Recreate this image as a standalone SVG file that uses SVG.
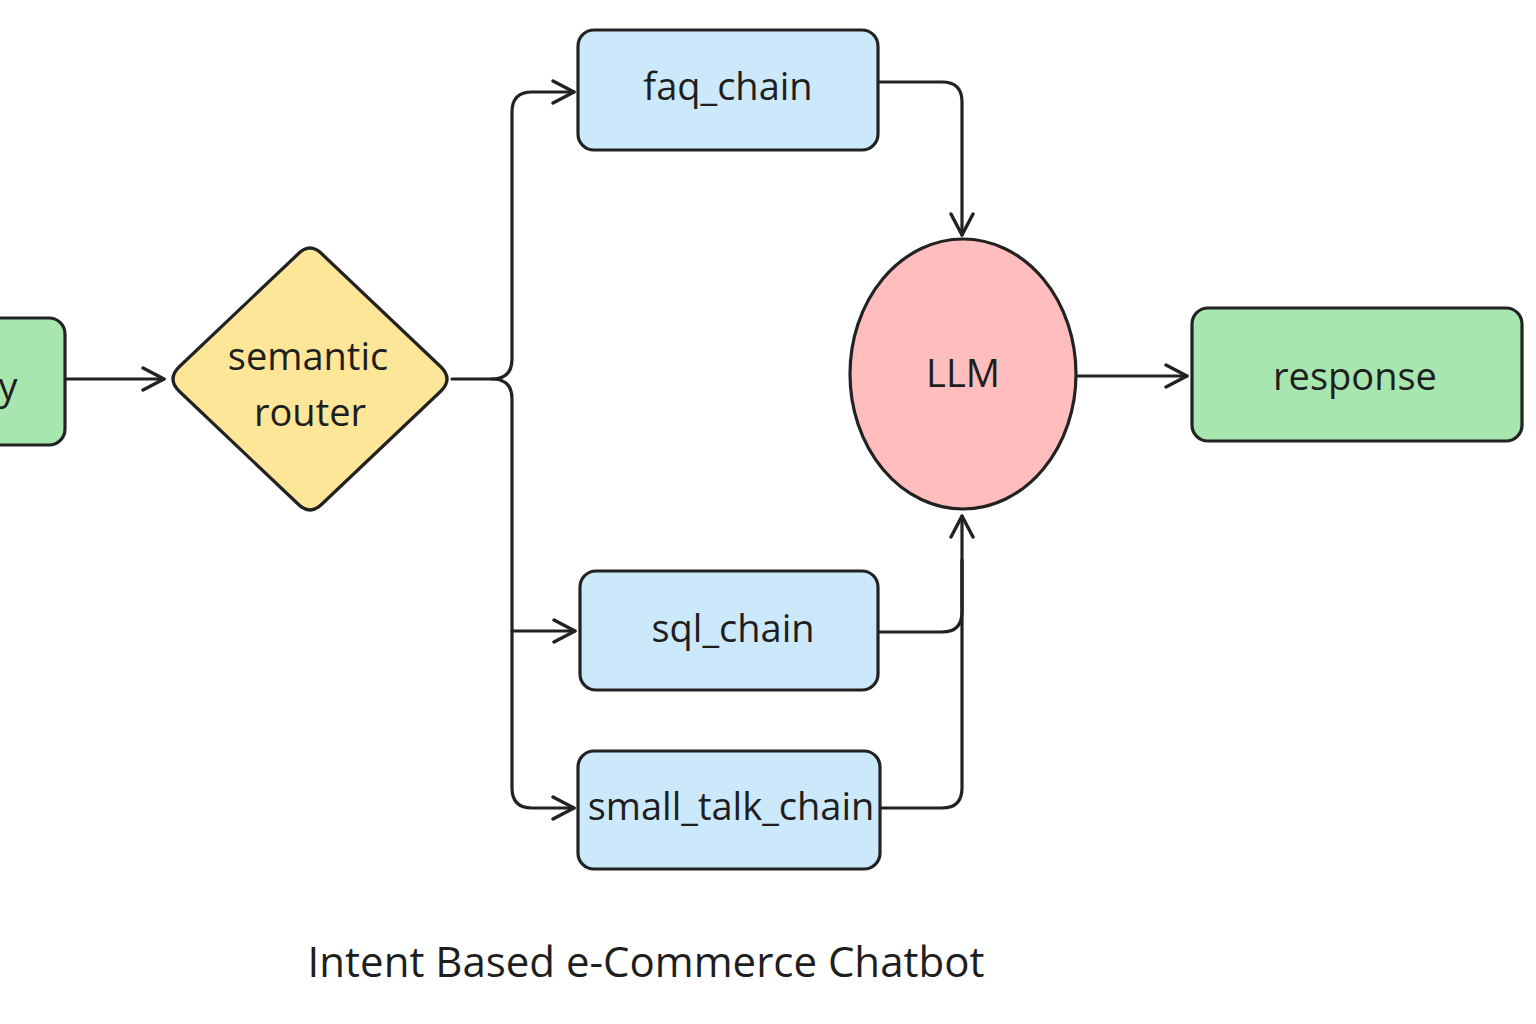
<svg xmlns="http://www.w3.org/2000/svg" width="1536" height="1024" viewBox="0 0 1536 1024">
<style>
.node{stroke:#222;stroke-width:3.2;stroke-linejoin:round}
.chain{fill:#cce8fb}
.green{fill:#a8e6b0}
.lbl{font-family:"Open Sans","Liberation Sans",sans-serif;font-size:38px;fill:#1e1e1e;text-anchor:middle;dominant-baseline:central}
.edge{fill:none;stroke:#222;stroke-width:3.2;stroke-linecap:round;stroke-linejoin:round}
</style>
<defs>
<marker id="arr" viewBox="0 0 26 26" refX="24" refY="13" markerWidth="26" markerHeight="26" markerUnits="userSpaceOnUse" orient="auto">
<path d="M3 2 L24 13 L3 24" fill="none" stroke="#222" stroke-width="3.4" stroke-linecap="round" stroke-linejoin="round"/>
</marker>
</defs>
<rect width="1536" height="1024" fill="#fff"/>
<g id="connectors">
<path class="edge" d="M66 379 H164" marker-end="url(#arr)"/>
<path class="edge" d="M452 379 H492 Q512 379 512 359 V112 Q512 92 532 92 H574" marker-end="url(#arr)"/>
<path class="edge" d="M492 379 Q512 379 512 399 V788 Q512 808 532 808 H574" marker-end="url(#arr)"/>
<path class="edge" d="M512 631 H575" marker-end="url(#arr)"/>
<path class="edge" d="M878 82 H942 Q962 82 962 102 V235" marker-end="url(#arr)"/>
<path class="edge" d="M878 632 H942 Q962 632 962 612 V516" marker-end="url(#arr)"/>
<path class="edge" d="M881 808 H942 Q962 808 962 788 V560"/>
<path class="edge" d="M1078 376 H1187" marker-end="url(#arr)"/>
</g>
<g id="query">
<rect class="node green" x="-40" y="318" width="105" height="127" rx="16"/>
<text class="lbl" x="8" y="385">y</text>
</g>
<g id="semantic_router">
<path class="node" fill="#fde697" d="M298 254 Q310 242 322 254 L441 367 Q453 379 441 391 L322 504 Q310 516 298 504 L179 391 Q167 379 179 367 Z"/>
<text class="lbl" x="308" y="355">semantic</text>
<text class="lbl" x="310" y="411">router</text>
</g>
<g id="faq_chain">
<rect class="node chain" x="578" y="30" width="300" height="120" rx="16"/>
<text class="lbl" x="728" y="85">faq_chain</text>
</g>
<g id="sql_chain">
<rect class="node chain" x="580" y="571" width="298" height="119" rx="16"/>
<text class="lbl" x="733" y="627">sql_chain</text>
</g>
<g id="small_talk_chain">
<rect class="node chain" x="578" y="751" width="302" height="118" rx="16"/>
<text class="lbl" x="731" y="805">small_talk_chain</text>
</g>
<g id="llm">
<ellipse class="node" fill="#ffbdbd" cx="963" cy="374" rx="113" ry="135"/>
<text class="lbl" x="963" y="372">LLM</text>
</g>
<g id="response">
<rect class="node green" x="1192" y="308" width="330" height="133" rx="16"/>
<text class="lbl" x="1355" y="375">response</text>
</g>
<text x="646" y="960" font-family="'Open Sans','Liberation Sans',sans-serif" font-size="42" fill="#1e1e1e" text-anchor="middle" dominant-baseline="central">Intent Based e-Commerce Chatbot</text>
</svg>
